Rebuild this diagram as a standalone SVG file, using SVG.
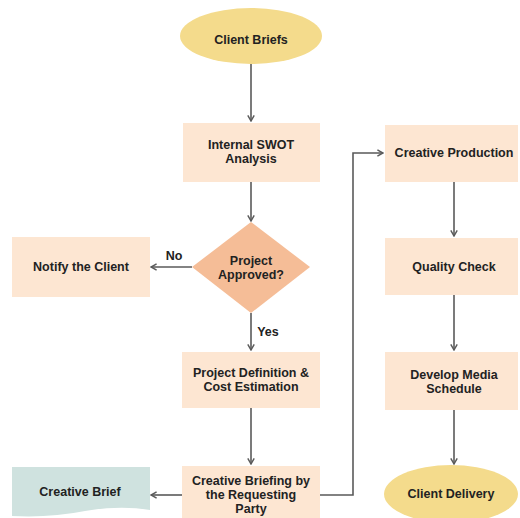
<svg xmlns="http://www.w3.org/2000/svg" width="520" height="518" viewBox="0 0 520 518">
<defs>
<style>
.box{fill:#fde6d2}
.ell{fill:#f4db8c}
.dia{fill:#f5bd97}
.doc{fill:#cfe2df}
.lbl{font-family:"Liberation Sans",Arial,sans-serif;font-weight:bold;font-size:12.5px;fill:#222222;text-anchor:middle}
.edge{fill:none;stroke:#5a5a5a;stroke-width:1.6}
</style>
<marker id="arr" viewBox="0 0 10 10" refX="9" refY="5" markerWidth="8" markerHeight="8" markerUnits="userSpaceOnUse" orient="auto">
<polyline points="2,1 9,5 2,9" fill="none" stroke="#5a5a5a" stroke-width="1.8"/>
</marker>
</defs>
<rect width="520" height="518" fill="#ffffff"/>
<g id="connectors">
<line class="edge" x1="251" y1="64" x2="251" y2="121" marker-end="url(#arr)"/>
<line class="edge" x1="251" y1="182" x2="251" y2="221" marker-end="url(#arr)"/>
<line class="edge" x1="192" y1="267" x2="151" y2="267" marker-end="url(#arr)"/>
<line class="edge" x1="251" y1="313" x2="251" y2="350" marker-end="url(#arr)"/>
<line class="edge" x1="251" y1="408" x2="251" y2="464" marker-end="url(#arr)"/>
<line class="edge" x1="182" y1="495" x2="151" y2="495" marker-end="url(#arr)"/>
<polyline class="edge" points="320,495 353,495 353,153 383,153" marker-end="url(#arr)"/>
<line class="edge" x1="454" y1="182" x2="454" y2="236" marker-end="url(#arr)"/>
<line class="edge" x1="454" y1="295" x2="454" y2="350" marker-end="url(#arr)"/>
<line class="edge" x1="454" y1="410" x2="454" y2="464" marker-end="url(#arr)"/>
<text class="lbl" x="174" y="260">No</text>
<text class="lbl" x="268" y="336">Yes</text>
</g>
<g id="client-briefs">
<ellipse class="ell" cx="251" cy="36" rx="71" ry="28"/>
<text class="lbl" x="251" y="44">Client Briefs</text>
</g>
<g id="swot">
<rect class="box" x="183" y="123" width="137" height="59"/>
<text class="lbl" x="251" y="149">Internal SWOT</text>
<text class="lbl" x="251" y="163">Analysis</text>
</g>
<g id="approved">
<polygon class="dia" points="251,222 310,267 251,313 192,267"/>
<text class="lbl" x="251" y="265">Project</text>
<text class="lbl" x="251" y="279">Approved?</text>
</g>
<g id="notify">
<rect class="box" x="12" y="237" width="138" height="60"/>
<text class="lbl" x="81" y="271">Notify the Client</text>
</g>
<g id="definition">
<rect class="box" x="182" y="352" width="138" height="56"/>
<text class="lbl" x="251" y="377">Project Definition &amp;</text>
<text class="lbl" x="251" y="391">Cost Estimation</text>
</g>
<g id="briefing">
<rect class="box" x="182" y="466" width="138" height="52"/>
<text class="lbl" x="251" y="485">Creative Briefing by</text>
<text class="lbl" x="251" y="499">the Requesting</text>
<text class="lbl" x="251" y="513">Party</text>
</g>
<g id="creative-brief">
<path class="doc" d="M12,467 H150 V510 Q120,505 85,511 Q50,518 12,516 Z"/>
<text class="lbl" x="80" y="496">Creative Brief</text>
</g>
<g id="production">
<rect class="box" x="385" y="125" width="133" height="57"/>
<text class="lbl" x="454" y="157">Creative Production</text>
</g>
<g id="quality">
<rect class="box" x="385" y="238" width="133" height="57"/>
<text class="lbl" x="454" y="271">Quality Check</text>
</g>
<g id="media">
<rect class="box" x="385" y="352" width="133" height="58"/>
<text class="lbl" x="454" y="379">Develop Media</text>
<text class="lbl" x="454" y="393">Schedule</text>
</g>
<g id="delivery">
<ellipse class="ell" cx="451" cy="494" rx="67" ry="29"/>
<text class="lbl" x="451" y="498">Client Delivery</text>
</g>
</svg>
